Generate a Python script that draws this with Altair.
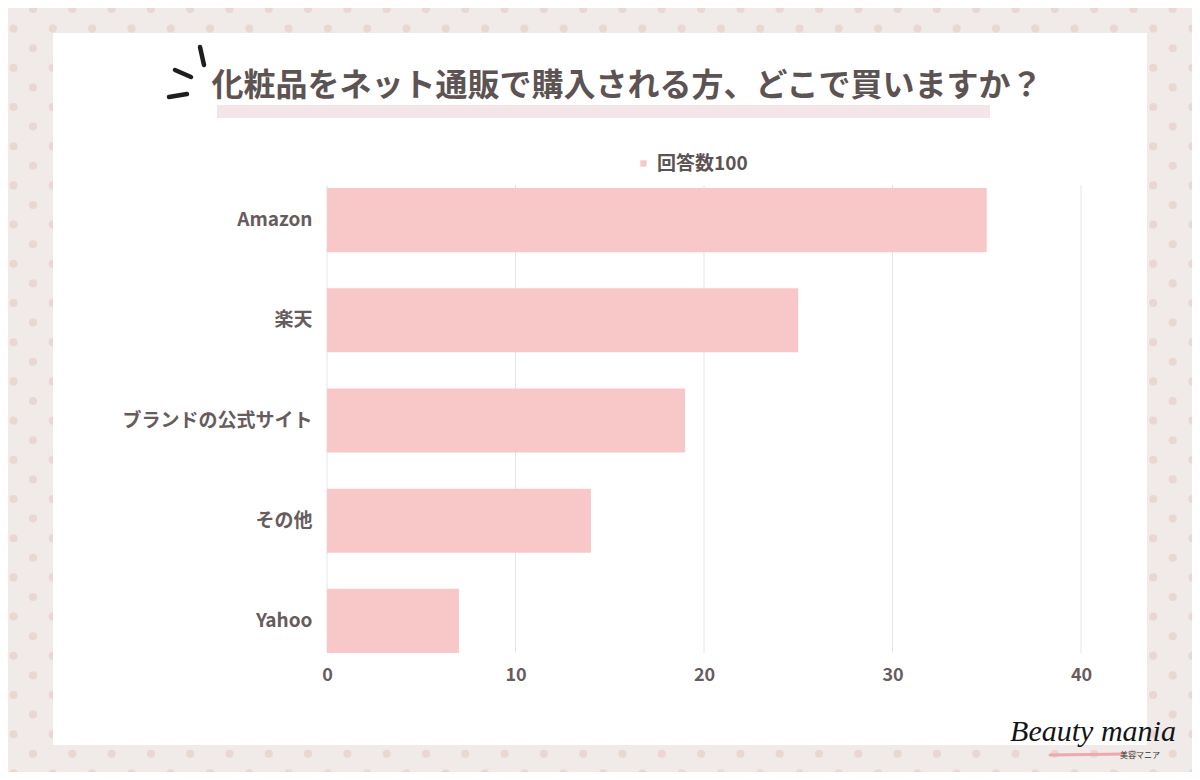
import altair as alt
import pandas as pd

# ---------------- data ----------------
categories = ["Amazon", "楽天", "ブランドの公式サイト", "その他", "Yahoo"]
values = [35, 25, 19, 14, 7]
tick_values = [0, 10, 20, 30, 40]
series_name = "回答数100"
title_text = "化粧品をネット通販で購入される方、どこで買いますか？"
logo_text = "Beauty mania"
logo_sub = "美容マニア"

# ---------------- layout ----------------
OX, OY = 327, 188          # screen position of plot-area origin
W, H = 754, 465            # plot area
CW, CH = 1184, 764         # canvas
PAD_L, PAD_T = OX - 8, OY - 8
PAD_R, PAD_B = CW - PAD_L - W, CH - PAD_T - H

FONT = "Noto Sans CJK JP"
BAR = "#f8c8c9"
TXT = "#5d5353"
LBL = "#675c5d"


def px(sx):
    return sx - OX


def py(sy):
    return sy - OY


one = pd.DataFrame({"a": [0]})

# decorative dot pattern in the background
dots = []
r = 0
sy = 9.0
while sy < 790:
    sx = (33.0 if r % 2 == 0 else 13.5) - 39.3
    while sx < 1215:
        dots.append({"dx": px(sx), "dy": py(sy)})
        sx += 39.3
    sy += 19.6
    r += 1

dots_layer = alt.Chart(pd.DataFrame(dots)).mark_circle(
    size=66, color="#ebd7d1", opacity=1
).encode(
    x=alt.X("dx:Q", scale=None, axis=None),
    y=alt.Y("dy:Q", scale=None, axis=None),
)

panel = alt.Chart(one).mark_rect(color="#ffffff").encode(
    x=alt.value(px(53)), x2=alt.value(px(1147)),
    y=alt.value(py(33)), y2=alt.value(py(745)),
)

underline = alt.Chart(one).mark_rect(color="#f4e6e8").encode(
    x=alt.value(px(217)), x2=alt.value(px(990)),
    y=alt.value(py(105)), y2=alt.value(py(118)),
)


def stroke(x1, y1, x2, y2, w=4.5):
    return alt.Chart(one).mark_rule(color="#1e1e1e", strokeWidth=w, strokeCap="round").encode(
        x=alt.value(px(x1)), x2=alt.value(px(x2)),
        y=alt.value(py(y1)), y2=alt.value(py(y2)),
    )


strokes = [
    stroke(169, 97, 187, 94),
    stroke(175, 70, 191, 77),
    stroke(200, 47, 204, 65),
]

title = alt.Chart(one).mark_text(
    text=title_text, font=FONT, fontSize=32, fontWeight="bold", color=TXT,
    align="center", baseline="middle",
).encode(x=alt.value(px(627)), y=alt.value(py(86)))

grid = alt.Chart(pd.DataFrame({"tick": tick_values})).mark_rule(
    color="#e6e6e6", strokeWidth=1
).encode(
    x=alt.X("tick:Q", scale=alt.Scale(domain=[0, 40]), axis=None),
    y=alt.value(py(185)), y2=alt.value(py(653)),
)

bars_df = pd.DataFrame({"category": categories, "value": values, "series": series_name})
bars = alt.Chart(bars_df).mark_bar().encode(
    y=alt.Y(
        "category:N", sort=categories, title=None,
        scale=alt.Scale(paddingInner=0.36, paddingOuter=0),
        axis=alt.Axis(domain=False, ticks=False, labelFont=FONT, labelFontSize=19,
                      labelFontWeight="bold", labelColor=LBL, labelPadding=15,
                      labelLimit=400, zindex=2, orient="left"),
    ),
    x=alt.X(
        "value:Q", title=None, scale=alt.Scale(domain=[0, 40]),
        axis=alt.Axis(values=tick_values, grid=False, domain=False, ticks=False,
                      labelFont=FONT, labelFontSize=18, labelFontWeight="bold",
                      labelColor=LBL, labelPadding=13, labelFlush=False,
                      zindex=2, orient="bottom"),
    ),
    color=alt.Color(
        "series:N", scale=alt.Scale(range=[BAR]),
        legend=alt.Legend(
            orient="none", legendX=px(634), legendY=py(154), title=None,
            symbolType="square", symbolSize=40, symbolStrokeWidth=0,
            labelFont=FONT, labelFontSize=19, labelFontWeight="bold",
            labelColor=TXT, padding=0, labelOffset=4,
        ),
    ),
)

logo = alt.Chart(one).mark_text(
    text=logo_text, font="Liberation Serif", fontSize=30, fontStyle="italic",
    color="#151515", align="center", baseline="middle",
).encode(x=alt.value(px(1093)), y=alt.value(py(732)))

logo_line = alt.Chart(one).mark_rule(color="#eaaab0", strokeWidth=3, strokeCap="round").encode(
    x=alt.value(px(1050)), x2=alt.value(px(1125)),
    y=alt.value(py(755)), y2=alt.value(py(754)),
)

logo_small = alt.Chart(one).mark_text(
    text=logo_sub, font=FONT, fontSize=8, color="#333333", align="center", baseline="middle",
).encode(x=alt.value(px(1140)), y=alt.value(py(756)))

chart = alt.layer(
    dots_layer, panel, underline, *strokes, title, grid, bars, logo_line, logo, logo_small
).resolve_scale(
    x="independent", y="independent"
).properties(
    width=W, height=H,
    padding={"left": PAD_L, "top": PAD_T, "right": PAD_R, "bottom": PAD_B},
    autosize=alt.AutoSizeParams(type="none"),
    background="#f0eae8",
).configure_view(stroke=None)

chart.save("out.html", embed_options={"renderer": "svg", "actions": False})
